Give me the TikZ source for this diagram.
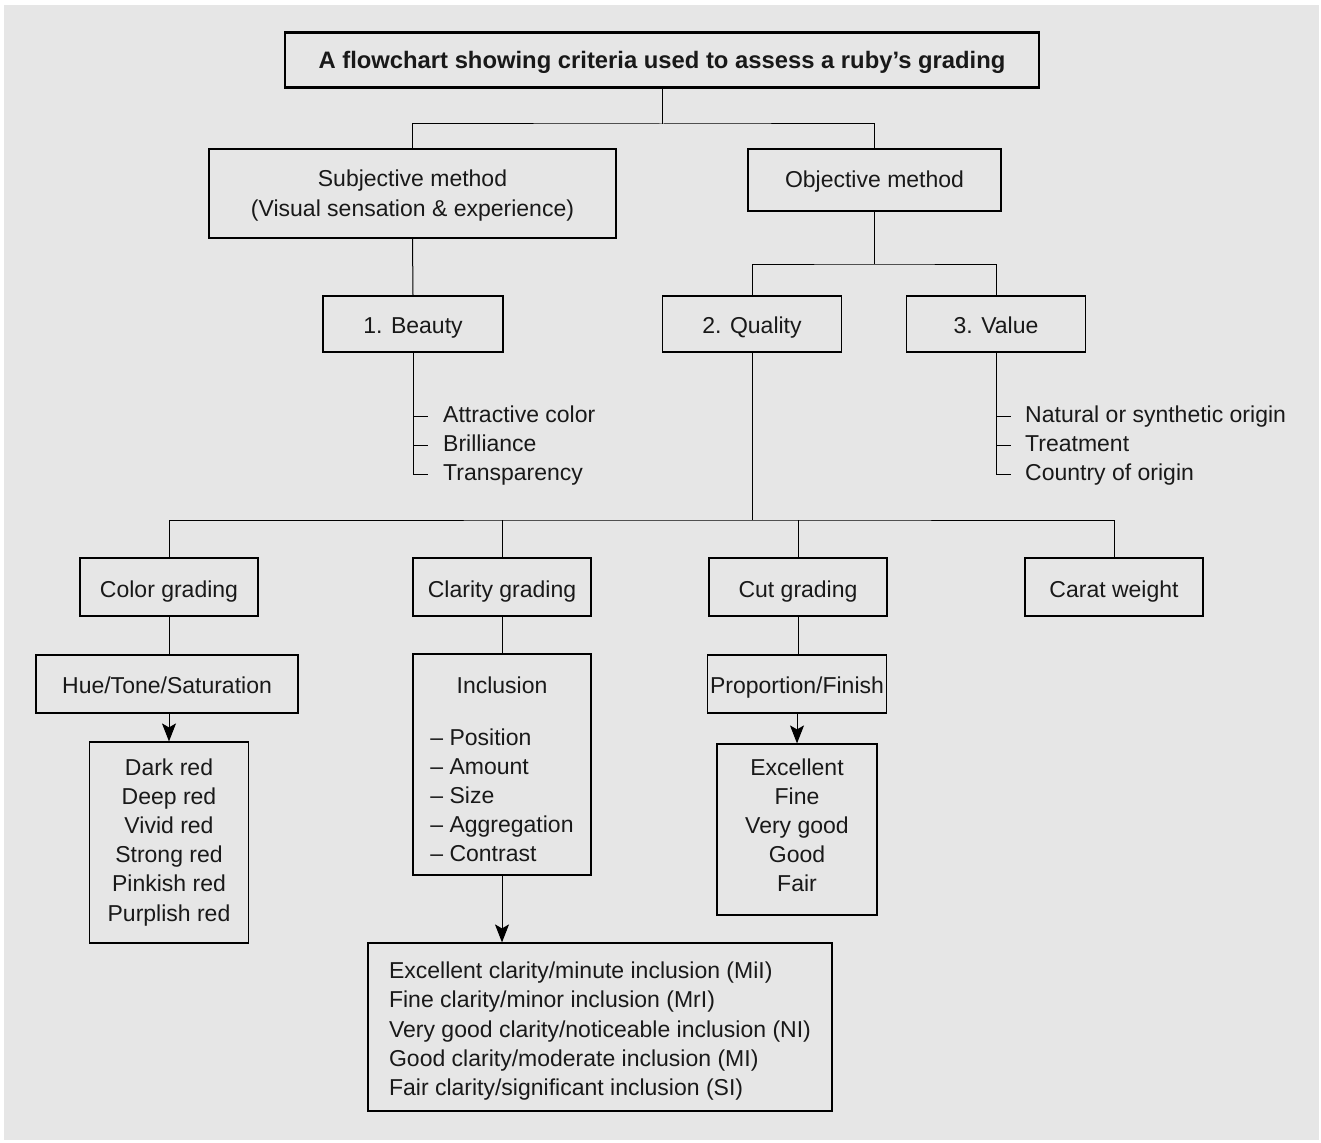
\documentclass[tikz,border=0pt]{standalone}
\usepackage{fontspec}
\setmainfont{Liberation Sans}
\usetikzlibrary{arrows.meta}
\definecolor{bg}{RGB}{230,230,230}
\newcommand{\bodyfont}{\fontsize{23}{29.2}\selectfont}
\newcommand{\tb}[2][c]{\begin{tabular}[t]{@{}#1@{}}#2\end{tabular}}
\begin{document}
\begin{tikzpicture}[x=1pt,y=-1pt,
  box/.style={draw, line width=1.2pt, inner sep=0pt, align=center, font=\bodyfont, text=black!90},
  conn/.style={line width=1pt},
  arr/.style={conn, -{Stealth[length=18pt,width=14pt,inset=4pt]}},
  item/.style={anchor=base west, inner sep=0pt, font=\bodyfont, text=black!90}]
\useasboundingbox (0,0) rectangle (1321,1142);
\fill[white] (0,0) rectangle (1321,1142);
\fill[bg] (4,5) rectangle (1319,1140);

% title
\node[box, line width=2.6pt, minimum width=754pt, minimum height=55pt, text height=18pt, text depth=0pt, font=\fontsize{23.8}{29.2}\selectfont\bfseries] (title) at (662,60) {\tb{A flowchart showing criteria used to assess a ruby’s grading}};

% methods
\node[box, minimum width=407pt, minimum height=89pt, text height=0pt, text depth=13.2pt] (subj) at (412.5,193.5) {\tb{Subjective method\\(Visual sensation \& experience)}};
\node[box, minimum width=253pt, minimum height=62pt, text height=14pt, text depth=0pt] (obj) at (874.5,180) {\tb{Objective method}};

\coordinate (j1) at (662,124);
\draw[conn] (title.south) -- (j1);
\draw[conn] (subj.north) |- (j1) -| (obj.north);

% level 2
\node[box, minimum width=180pt, minimum height=56pt, text height=18pt, text depth=0pt] (beauty) at (413,324) {\tb{1. Beauty}};
\node[box, minimum width=179pt, minimum height=56pt, text height=18pt, text depth=0pt] (quality) at (752,324) {\tb{2. Quality}};
\node[box, minimum width=179pt, minimum height=56pt, text height=18pt, text depth=0pt] (value) at (996,324) {\tb{3. Value}};
\draw[conn] (subj.south) -- (beauty.north);
\coordinate (j2) at (874.5,264);
\draw[conn] (obj.south) -- (j2);
\draw[conn] (quality.north) |- (j2) -| (value.north);

% beauty list
\node[item] (b1) at (443,422) {Attractive color};
\node[item] (b2) at (443,451) {Brilliance};
\node[item] (b3) at (443,480) {Transparency};
\coordinate (bt1) at (428,416);
\coordinate (bt2) at (428,445);
\coordinate (bt3) at (428,474);
\draw[conn] (beauty.south) |- (bt3);
\draw[conn] (beauty.south |- bt1) -- (bt1);
\draw[conn] (beauty.south |- bt2) -- (bt2);

% value list
\node[item] (v1) at (1025,422) {Natural or synthetic origin};
\node[item] (v2) at (1025,451) {Treatment};
\node[item] (v3) at (1025,480) {Country of origin};
\coordinate (vt1) at (1011,416);
\coordinate (vt2) at (1011,445);
\coordinate (vt3) at (1011,474);
\draw[conn] (value.south) |- (vt3);
\draw[conn] (value.south |- vt1) -- (vt1);
\draw[conn] (value.south |- vt2) -- (vt2);

% gradings
\tikzset{grade/.style={box, minimum width=178pt, minimum height=58pt, text height=21pt, text depth=0pt}}
\node[grade] (color) at (169,587) {\tb{Color grading}};
\node[grade] (clarity) at (502,587) {\tb{Clarity grading}};
\node[grade] (cut) at (798,587) {\tb{Cut grading}};
\node[grade] (carat) at (1114,587) {\tb{Carat weight}};
\coordinate (j3) at (752,520);
\draw[conn] (quality.south) -- (j3);
\draw[conn] (color.north) |- (j3) -| (carat.north);
\draw[conn] (clarity.north) -- (clarity.north |- j3);
\draw[conn] (cut.north) -- (cut.north |- j3);

% color branch
\node[box, minimum width=262pt, minimum height=58pt, text height=18pt, text depth=0pt] (hue) at (167,684) {\tb{Hue/Tone/Saturation}};
\node[box, minimum width=159pt, minimum height=201pt, text height=0pt, text depth=135pt] (reds) at (169,842.5) {\tb{Dark red\\Deep red\\Vivid red\\Strong red\\Pinkish red\\Purplish red}};
\draw[conn] (color.south) -- (color.south |- hue.north);
\draw[arr] (reds.north |- hue.south) -- (reds.north);

% clarity branch
\node[box, minimum width=178pt, minimum height=221pt, text height=0pt, text depth=142.8pt] (incl) at (502,764.5) {\tb[l]{\multicolumn{1}{@{}c@{}}{Inclusion}\\[22.8pt]– Position\\– Amount\\– Size\\– Aggregation\\– Contrast}};
\node[box, minimum width=464pt, minimum height=168pt, text height=0pt, text depth=96.8pt] (classes) at (600,1027) {\tb[l]{Excellent clarity/minute inclusion (MiI)\\Fine clarity/minor inclusion (MrI)\\Very good clarity/noticeable inclusion (NI)\\Good clarity/moderate inclusion (MI)\\Fair clarity/significant inclusion (SI)}};
\draw[conn] (clarity.south) -- (incl.north);
\draw[arr] (incl.south) -- (incl.south |- classes.north);

% cut branch
\node[box, minimum width=179pt, minimum height=58pt, text height=18pt, text depth=0pt] (prop) at (797,684) {\tb{Proportion/Finish}};
\node[box, minimum width=160pt, minimum height=171pt, text height=0pt, text depth=108.8pt] (grades) at (797,829.5) {\tb{Excellent\\Fine\\Very good\\Good\\Fair}};
\draw[conn] (cut.south) -- (cut.south |- prop.north);
\draw[arr] (prop.south) -- (grades.north);
\end{tikzpicture}
\end{document}
